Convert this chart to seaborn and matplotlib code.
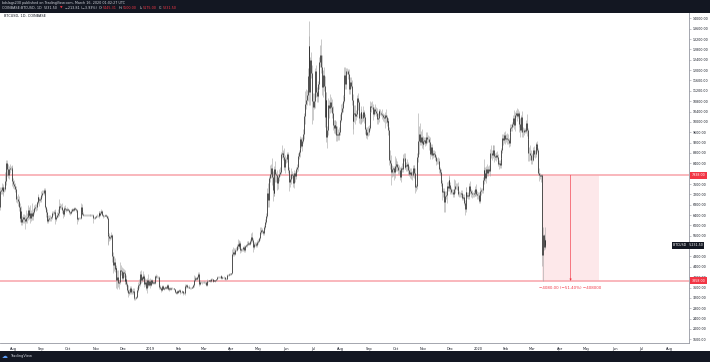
import matplotlib
matplotlib.use("Agg")
import matplotlib.pyplot as plt
import matplotlib.dates as mdates
import matplotlib.transforms as mtrans
from matplotlib.patches import Rectangle
import numpy as np
import pandas as pd
import seaborn as sns

# ---------------- data (daily BTCUSD, Coinbase) ----------------
start_date = "2018-07-17"
first_open = 6730

close = [
    # 2018-07 (17-31)
    7320, 7380, 7470, 7330, 7410, 7400, 7720, 8400, 8170, 7930, 8190, 8230, 8215, 8180, 7730,
    # 2018-08
    7600, 7530, 7420, 7010, 7030, 6940, 6720, 6280, 6540, 6150, 6240, 6320, 6260, 6190, 6270, 6310,
    6580, 6400, 6490, 6270, 6480, 6360, 6530, 6690, 6730, 6700, 6910, 7080, 7030, 6990, 7020,
    # 2018-09
    7190, 7270, 7260, 7370, 6700, 6520, 6400, 6190, 6240, 6300, 6280, 6330, 6480, 6480, 6520,
    6500, 6250, 6340, 6390, 6490, 6760, 6710, 6700, 6590, 6430, 6460, 6680, 6630, 6600, 6630,
    # 2018-10
    6580, 6510, 6480, 6570, 6630, 6590, 6600, 6660, 6640, 6590, 6250, 6280, 6290, 6290, 6730, 6520,
    6460, 6410, 6400, 6410, 6420, 6400, 6390, 6410, 6390, 6400, 6410, 6400, 6270, 6280, 6320,
    # 2018-11
    6370, 6380, 6360, 6480, 6420, 6480, 6540, 6420, 6350, 6380, 6390, 6360, 6290, 5650, 5600,
    5510, 5550, 5620, 4830, 4470, 4580, 4310, 4370, 3880, 4010, 3780, 3830, 4280, 4230, 3980,
    # 2018-12
    4200, 4150, 3850, 3950, 3740, 3500, 3400, 3410, 3570, 3440, 3410, 3480, 3250, 3180, 3190, 3230,
    3520, 3680, 3740, 4130, 3900, 4000, 3980, 4050, 3750, 3800, 3600, 3880, 3710, 3850, 3690,
    # 2019-01
    3800, 3880, 3780, 3820, 3780, 4050, 4000, 4000, 4010, 3630, 3630, 3590, 3500, 3650, 3560, 3600,
    3630, 3590, 3690, 3540, 3550, 3580, 3560, 3590, 3570, 3570, 3540, 3430, 3400, 3450, 3430,
    # 2019-02
    3460, 3490, 3410, 3410, 3450, 3390, 3380, 3650, 3650, 3690, 3620, 3630, 3600, 3580,
    3600, 3620, 3680, 3900, 3920, 3980, 3950, 3990, 4130, 3740, 3830, 3810, 3820, 3820,
    # 2019-03
    3830, 3830, 3800, 3710, 3860, 3870, 3880, 3870, 3940, 3920, 3870, 3880, 3870, 3880, 3920, 4000,
    3990, 3990, 4020, 4050, 3980, 3990, 4000, 3990, 3920, 3940, 4090, 4080, 4120, 4120, 4110,
    # 2019-04
    4150, 4880, 4970, 4910, 5050, 5050, 5200, 5300, 5200, 5320, 5040, 5080, 5080, 5160, 5040,
    5210, 5240, 5280, 5280, 5330, 5300, 5390, 5560, 5440, 5160, 5280, 5280, 5290, 5230, 5350,
    # 2019-05
    5410, 5500, 5750, 5840, 5780, 5720, 5940, 6000, 6150, 6370, 7250, 6980, 7820, 7980, 8200, 7880,
    7350, 7260, 8190, 7980, 7950, 7630, 7880, 7990, 8060, 8740, 8790, 8730, 8660, 8270, 8550,
    # 2019-06
    8560, 8740, 8130, 7680, 7790, 7800, 8000, 7930, 7630, 8010, 7900, 8170, 8240, 8680, 8850,
    8980, 9320, 9080, 9280, 9530, 10210, 10700, 10860, 11020, 11770, 12930, 11150, 12380, 11880, 10820,
    # 2019-07
    10590, 10820, 11980, 11150, 10980, 11250, 11480, 12300, 12570, 12100, 11350, 11810, 11380, 10200, 10850, 9430,
    9690, 10640, 10530, 10760, 10590, 10330, 9880, 9780, 9880, 9850, 9480, 9530, 9510, 9590, 10090,
    # 2019-08
    10400, 10530, 10820, 10980, 11800, 11470, 11980, 11960, 11860, 11280, 11550, 11400, 10860, 10030, 10300, 10360,
    10220, 10320, 10920, 10760, 10140, 10130, 10400, 10140, 10130, 10370, 10170, 9720, 9490, 9590, 9600,
    # 2019-09
    9770, 10380, 10620, 10580, 10590, 10320, 10480, 10410, 10330, 10110, 10160, 10410, 10360, 10360, 10310,
    10250, 10190, 10160, 10280, 10170, 9980, 10030, 9690, 8530, 8430, 8060, 8190, 8210, 8050, 8300,
    # 2019-10
    8320, 8390, 8240, 8150, 8140, 7870, 8210, 8180, 8590, 8590, 8270, 8340, 8290, 8360, 8160, 7990,
    8080, 7960, 7960, 8230, 8220, 8030, 7470, 7510, 8660, 9250, 9550, 9210, 9430, 9180, 9150,
    # 2019-11
    9250, 9310, 9200, 9410, 9320, 9340, 9210, 8770, 8810, 9040, 8720, 8810, 8760, 8630, 8470,
    8490, 8500, 8170, 8110, 8080, 7620, 7280, 7330, 6910, 7140, 7170, 7520, 7430, 7760, 7560,
    # 2019-12
    7400, 7300, 7300, 7200, 7400, 7540, 7510, 7530, 7340, 7220, 7210, 7200, 7260, 7070, 7110, 6880,
    6620, 7290, 7150, 7190, 7140, 7520, 7320, 7250, 7200, 7200, 7250, 7300, 7390, 7220, 7170,
    # 2020-01
    7180, 6950, 7340, 7350, 7350, 7760, 8150, 8040, 7820, 8190, 8020, 8180, 8110, 8810, 8810, 8720,
    8900, 8920, 8700, 8630, 8730, 8660, 8390, 8430, 8330, 8600, 8900, 9390, 9290, 9510, 9340,
    # 2020-02
    9380, 9330, 9290, 9180, 9610, 9760, 9800, 9900, 10160, 9860, 10270, 10350, 10240, 10360, 9900,
    9930, 9700, 10180, 9600, 9610, 9680, 9660, 9960, 9670, 9320, 8790, 8810, 8710, 8540,
    # 2020-03 (1-16)
    8530, 8910, 8760, 8750, 9060, 9150, 8900, 8030, 7930, 7890, 7938, 4860, 5620, 5170, 5445, 5231.5,
]

# upper wick above body top (USD)
wick_hi = [
    150, 120, 160, 130, 100, 90, 330, 120, 140, 200, 110, 150, 80, 130, 120,
    120, 150, 100, 100, 90, 180, 210, 140, 120, 200, 120, 140, 120, 130, 320, 170,
    220, 120, 100, 300, 120, 380, 100, 80, 90, 110, 50, 60, 140, 60, 80,
    140, 90, 80, 70, 60, 60, 110, 90, 160, 90, 90, 50, 60, 70, 90,
    100, 90, 70, 120, 130, 270, 90, 130, 150, 60, 60, 70, 120, 60, 100,
    60, 50, 40, 50, 60, 40, 50, 70, 40, 40, 60, 50, 40, 30, 150, 80,
    60, 40, 40, 30, 40, 30, 30, 40, 30, 30, 30, 30, 50, 40, 50,
    40, 50, 40, 80, 60, 60, 80, 60, 40, 30, 40, 40, 40, 80, 60,
    120, 80, 120, 60, 130, 250, 150, 100, 80, 250, 260, 60, 320, 200, 150,
    150, 120, 120, 100, 120, 90, 200, 120, 100, 80, 90, 90, 100, 90, 50, 40,
    120, 150, 200, 100, 160, 60, 120, 190, 80, 160, 150, 100, 240, 100, 120,
    50, 40, 40, 40, 30, 40, 80, 100, 40, 40, 30, 50, 40, 40, 60, 40,
    40, 30, 50, 40, 30, 40, 40, 30, 30, 30, 20, 20, 30, 40, 50,
    50, 40, 40, 30, 40, 30, 30, 80, 60, 40, 40, 30, 60, 40,
    30, 30, 40, 180, 100, 60, 40, 40, 80, 60, 50, 30, 40, 40,
    40, 30, 30, 30, 60, 30, 30, 50, 40, 30, 30, 30, 30, 30, 30, 60,
    50, 40, 30, 40, 30, 40, 20, 30, 30, 30, 30, 40, 50, 30, 50,
    30, 220, 200, 170, 80, 100, 100, 160, 80, 120, 60, 60, 40, 40, 80,
    40, 40, 130, 100, 50, 30, 80, 140, 200, 70, 80, 70, 60, 50, 70,
    60, 60, 200, 90, 50, 60, 80, 70, 80, 100, 210, 380, 90, 340, 160, 400,
    240, 160, 100, 300, 100, 200, 100, 180, 180, 80, 320, 120, 120, 340, 160,
    100, 100, 100, 120, 150, 80, 200, 100, 100, 120, 100, 100, 150, 100, 50,
    400, 150, 100, 120, 200, 120, 500, 400, 200, 300, 950, 400, 120, 300, 300,
    300, 300, 100, 200, 200, 200, 100, 200, 400, 630, 500, 200, 300, 400, 300, 300,
    150, 300, 200, 300, 200, 300, 300, 200, 200, 200, 200, 300, 200, 200, 200,
    300, 200, 200, 100, 300, 300, 100, 100, 100, 200, 200, 200, 200, 200, 200, 300,
    300, 150, 100, 200, 100, 200, 200, 100, 150, 250, 100, 150, 100, 200, 250,
    100, 100, 200, 150, 200, 100, 100, 200, 150, 200, 200, 100, 100, 150, 50,
    200, 100, 100, 100, 200, 100, 100, 100, 100, 400, 300, 150, 100, 100, 400,
    200, 200, 100, 150, 200, 100, 100, 200, 150, 200, 200, 100, 100, 200, 100, 150,
    150, 150, 150, 100, 100, 100, 200, 100, 150, 1100, 300, 400, 200, 300, 200,
    200, 100, 100, 200, 200, 150, 100, 200, 200, 100, 100, 100, 100, 100, 100,
    100, 150, 100, 100, 100, 100, 150, 100, 100, 200, 150, 150, 200, 100, 200,
    100, 100, 100, 100, 400, 200, 100, 100, 150, 100, 100, 100, 100, 100, 100, 100,
    100, 200, 200, 100, 100, 100, 200, 100, 100, 100, 100, 100, 150, 200, 100,
    100, 100, 150, 100, 100, 100, 100, 400, 200, 100, 200, 100, 150, 150, 300, 100,
    200, 200, 200, 100, 100, 150, 100, 100, 100, 150, 100, 150, 150, 100, 150,
    150, 200, 200, 100, 200, 150, 100, 100, 100, 300, 100, 100, 170, 150, 50,
    150, 200, 100, 250, 200, 100, 100, 100, 350, 100, 200, 200, 300, 200,
    250, 100, 150, 150, 150, 50, 100, 100, 200, 100, 30, 30, 335, 45, 495, 55,
]

# lower wick below body bottom (USD)
wick_lo = [
    120, 100, 150, 200, 100, 90, 70, 140, 250, 110, 120, 160, 90, 80, 200,
    150, 120, 130, 120, 160, 200, 180, 150, 100, 120, 150, 130, 160, 330, 110, 160,
    100, 140, 120, 160, 100, 160, 140, 80, 100, 150, 120, 70, 160, 230, 100,
    100, 80, 60, 90, 60, 180, 150, 100, 90, 70, 110, 90, 80, 60, 70,
    60, 200, 80, 60, 70, 110, 90, 80, 120, 130, 60, 80, 90, 100, 60,
    40, 50, 60, 40, 40, 50, 40, 40, 60, 80, 200, 60, 50, 50, 60, 70,
    50, 60, 30, 30, 30, 40, 30, 40, 30, 30, 30, 40, 170, 40, 50,
    40, 40, 50, 60, 40, 60, 50, 40, 60, 40, 30, 40, 50, 400, 300,
    130, 80, 80, 240, 300, 230, 120, 120, 300, 330, 150, 250, 80, 150, 130,
    120, 130, 120, 100, 90, 80, 150, 100, 60, 80, 70, 60, 80, 60, 50, 30,
    40, 80, 110, 90, 130, 100, 60, 90, 110, 90, 80, 220, 80, 60, 100,
    40, 60, 60, 60, 30, 50, 50, 40, 60, 80, 70, 60, 70, 40, 30, 40,
    50, 60, 40, 40, 80, 50, 40, 40, 30, 30, 30, 50, 60, 50, 40,
    40, 40, 60, 30, 30, 70, 40, 50, 40, 50, 50, 40, 30, 40,
    30, 30, 30, 50, 60, 50, 60, 70, 40, 80, 60, 50, 60, 40,
    30, 40, 60, 40, 40, 30, 30, 60, 40, 30, 60, 40, 30, 40, 30, 20,
    30, 30, 30, 40, 40, 30, 30, 40, 30, 40, 20, 40, 40, 40, 30,
    40, 30, 60, 100, 60, 40, 50, 100, 60, 80, 90, 60, 50, 50, 60,
    60, 40, 60, 50, 40, 50, 40, 60, 90, 190, 80, 60, 60, 70, 60,
    50, 60, 60, 100, 60, 100, 80, 60, 60, 100, 80, 250, 270, 150, 150, 330,
    400, 110, 130, 300, 260, 250, 220, 150, 100, 90, 150, 100, 150, 140, 250,
    150, 100, 100, 350, 200, 200, 80, 100, 150, 200, 220, 120, 100, 120, 100,
    200, 200, 100, 200, 100, 200, 300, 200, 200, 200, 500, 500, 500, 200, 900,
    500, 100, 300, 200, 200, 200, 300, 200, 200, 200, 300, 400, 200, 400, 300, 200,
    450, 200, 400, 200, 200, 200, 200, 200, 200, 300, 200, 200, 200, 200, 100,
    100, 100, 150, 100, 100, 200, 200, 100, 200, 200, 200, 100, 200, 300, 500, 300,
    300, 150, 150, 300, 200, 200, 200, 200, 150, 100, 200, 200, 100, 150, 150,
    100, 100, 100, 200, 100, 250, 100, 100, 100, 200, 200, 150, 100, 100, 100,
    150, 150, 150, 400, 200, 150, 100, 200, 200, 250, 500, 200, 300, 300, 200,
    200, 100, 150, 150, 150, 100, 200, 100, 100, 100, 100, 100, 200, 200, 200, 100,
    150, 150, 200, 100, 100, 200, 200, 150, 100, 200, 500, 100, 100, 200, 200,
    100, 100, 150, 100, 150, 100, 300, 200, 100, 100, 150, 100, 100, 100, 150,
    100, 100, 150, 150, 100, 100, 300, 200, 400, 400, 100, 300, 100, 100, 100,
    200, 100, 100, 100, 100, 150, 100, 150, 100, 100, 100, 100, 100, 100, 100, 100,
    200, 100, 100, 100, 100, 100, 100, 150, 150, 100, 100, 100, 150, 100, 150,
    150, 100, 100, 150, 100, 100, 150, 300, 100, 200, 100, 100, 100, 200, 200, 200,
    100, 100, 250, 100, 150, 100, 100, 200, 100, 100, 100, 100, 200, 100, 200,
    100, 200, 150, 150, 100, 100, 100, 150, 100, 150, 200, 100, 200, 100, 100,
    300, 300, 100, 200, 200, 100, 100, 100, 200, 200, 300, 300, 200, 150,
    150, 60, 100, 150, 100, 100, 50, 100, 200, 100, 200, 420, 1002, 115, 70, 57,
]

month_labels = ["Aug", "Sep", "Oct", "Nov", "Dec", "2019", "Feb", "Mar", "Apr", "May", "Jun", "Jul",
                "Aug", "Sep", "Oct", "Nov", "Dec", "2020", "Feb", "Mar", "Apr", "May", "Jun", "Jul", "Aug"]
first_month = "2018-08-01"

price_ticks = [1600, 2000, 2400, 2800, 3200, 3600, 4000, 4400, 4800, 5600, 6000, 6400, 6800, 7200,
               7600, 8400, 8800, 9200, 9600, 10000, 10400, 10800, 11200, 11600, 12000, 12400,
               12800, 13200, 13600, 14000]

range_top = 7938.00
range_bottom = 3858.00
range_start = "2020-03-12"
range_end = "2020-05-15"
last_price = 5231.50

assert len(close) == len(wick_hi) == len(wick_lo), (len(close), len(wick_hi), len(wick_lo))

# ---------------- build OHLC ----------------
dates = pd.date_range(start_date, periods=len(close), freq="D")
df = pd.DataFrame({"date": dates, "close": close})
df["open"] = [first_open] + close[:-1]
df["body_hi"] = df[["open", "close"]].max(axis=1)
df["body_lo"] = df[["open", "close"]].min(axis=1)
df["high"] = df["body_hi"] + np.array(wick_hi)
df["low"] = df["body_lo"] - np.array(wick_lo)
df["x"] = mdates.date2num(df["date"])

# ---------------- figure ----------------
sns.set_theme(style="white")
plt.rcParams["font.family"] = ["DejaVu Sans"]

W, H = 710, 362
fig = plt.figure(figsize=(W / 100, H / 100), dpi=100)
fig.patch.set_facecolor("white")
ax = fig.add_axes([0, (H - 343) / H, 689 / W, (343 - 12.5) / H])
ax.set_facecolor("white")

# candles
ax.vlines(df["x"], df["low"], df["high"], color="#a3a3a3", lw=0.4, zorder=3)
ax.vlines(df["x"], df["body_lo"], df["body_hi"], color="#2f2f2f", lw=0.55, zorder=4)

# horizontal levels
for lvl in (range_top, range_bottom):
    ax.axhline(lvl, color="#f8aab0", lw=1.2, zorder=2)

# price range measure box
x0 = mdates.date2num(pd.Timestamp(range_start))
x1 = mdates.date2num(pd.Timestamp(range_end))
xm = (x0 + x1) / 2
ax.fill_between([x0, x1], range_bottom, range_top, color="#fde8ea", lw=0, zorder=1)
ax.annotate("", xy=(xm, range_bottom), xytext=(xm, range_top),
            arrowprops=dict(arrowstyle="-|>", color="#f23645", lw=0.45,
                            mutation_scale=2.5, shrinkA=0, shrinkB=0), zorder=5)
diff = range_bottom - range_top
ax.annotate(f"\u2212{abs(diff):.2f} (\u2212{abs(diff) / range_top * 100:.2f}%) \u2212{abs(diff) * 100:.0f}",
            xy=(xm, range_bottom), xytext=(0, -4.8), textcoords="offset points",
            ha="center", va="center", fontsize=2.9, color="#f23645")

# axes limits
aug1 = mdates.date2num(pd.Timestamp(first_month))
ax.set_xlim(aug1 - 14.82, aug1 + 752.96)
ax.set_ylim(1459, 14224)

# x axis
month_pos = mdates.date2num(pd.date_range(first_month, periods=len(month_labels), freq="MS"))
ax.set_xticks(month_pos)
ax.set_xticklabels(month_labels)
ax.tick_params(axis="x", labelsize=2.5, length=1.5, width=0.4, color="#9598a1",
               labelcolor="#131722", pad=1.2, direction="out")

# y axis on the right
ax.yaxis.tick_right()
ax.set_yticks(price_ticks)
ax.set_yticklabels([f"{v:.2f}" for v in price_ticks])
ax.tick_params(axis="y", labelsize=2.3, length=1.5, width=0.4, color="#9598a1",
               labelcolor="#131722", pad=1.0, direction="out")

for side in ("left", "top"):
    ax.spines[side].set_visible(False)
for side in ("right", "bottom"):
    ax.spines[side].set_color("#9598a1")
    ax.spines[side].set_linewidth(0.6)
ax.grid(False)

# price labels on axis
blend = mtrans.blended_transform_factory(ax.transAxes, ax.transData)
for lvl in (range_top, range_bottom):
    ax.text(1.004, lvl, f"{lvl:.2f}", transform=blend, ha="left", va="center",
            fontsize=2.3, color="white", clip_on=False, zorder=10,
            bbox=dict(boxstyle="square,pad=0.45", fc="#f23645", ec="none"))
ax.text(673 / 689, last_price, f"BTCUSD   {last_price:.2f}", transform=blend, ha="left", va="center",
        fontsize=2.3, color="white", clip_on=False, zorder=10,
        bbox=dict(boxstyle="square,pad=0.45", fc="#131722", ec="none"))

# chart title inside pane
fig.text(4 / W, 1 - 16.3 / H, "BTCUSD, 1D, COINBASE", fontsize=2.5, color="#131722",
         va="center", ha="left")

# header / footer bars
fig.patches.append(Rectangle((0, 1 - 12.5 / H), 1, 12.5 / H, transform=fig.transFigure,
                             fc="#131722", ec="none", zorder=0))
fig.patches.append(Rectangle((0, 0), 1, 11.3 / H, transform=fig.transFigure,
                             fc="#131722", ec="none", zorder=0))

fig.text(2 / W, 1 - 3.0 / H,
         "bdslags230 published on TradingView.com, March 16, 2020 01:02:27 UTC",
         fontsize=2.4, color="#d1d4dc", va="center", ha="left")

renderer = fig.canvas.get_renderer()
parts = [("COINBASE:BTCUSD, 1D", "#d1d4dc"), (f"{last_price:.2f}", "#d1d4dc"), ("\u25bc", "#f23645"),
         ("\u2212213.81 (\u22123.93%)", "#d1d4dc"), ("O:", "#d1d4dc"), ("5445.31", "#f23645"),
         ("H:", "#d1d4dc"), ("5500.00", "#f23645"), ("L:", "#d1d4dc"), ("5175.00", "#f23645"),
         ("C:", "#d1d4dc"), ("5231.50", "#f23645")]
xpos = 2.0
for s, col in parts:
    t = fig.text(xpos / W, 1 - 8.0 / H, s, fontsize=2.4, color=col, va="center", ha="left")
    bb = t.get_window_extent(renderer)
    gap = 0.3 if s.endswith(":") else 2.2
    xpos += bb.width + gap

fig.text(2 / W, 5.6 / H, "\u2601", fontsize=4.2, color="#5b9cf6", va="center", ha="left")
fig.text(10.5 / W, 5.6 / H, "TradingView", fontsize=2.6, color="#d1d4dc", va="center", ha="left")

fig.savefig("out.png", dpi=100, facecolor="white")
